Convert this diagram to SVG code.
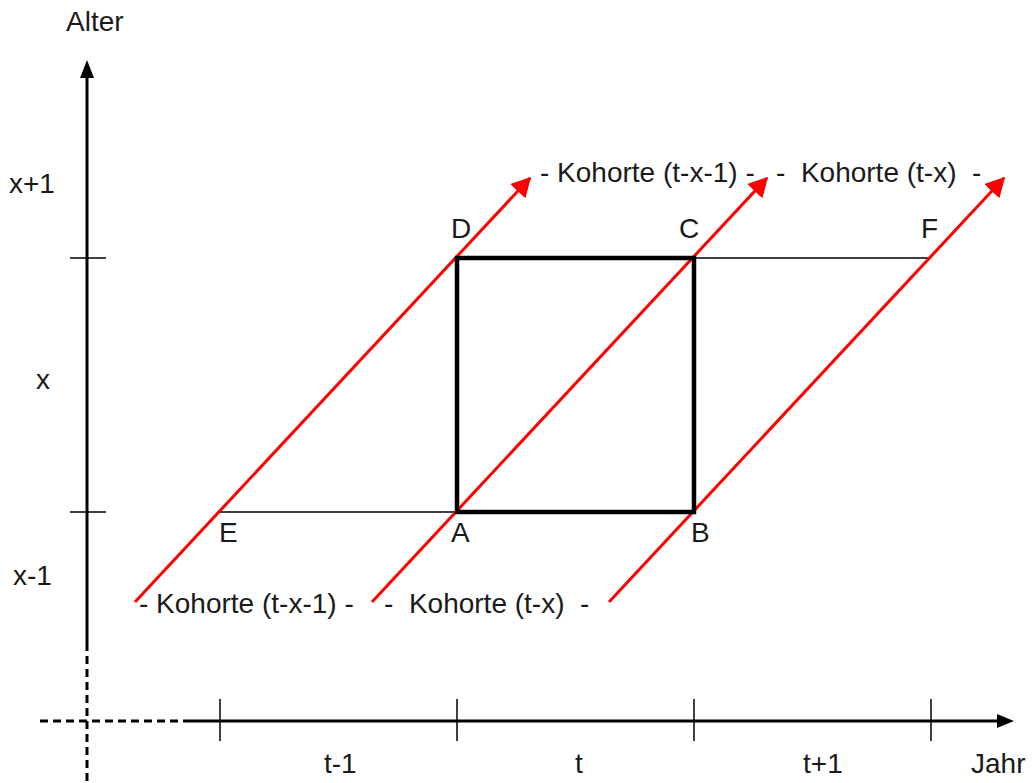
<svg xmlns="http://www.w3.org/2000/svg" width="1033" height="783" viewBox="0 0 1033 783">
<style>
text{font-family:"Liberation Sans",Arial,sans-serif;font-size:28px;fill:#1a1a1a}
.ax{stroke:#000;stroke-width:3;fill:none}
.dash{stroke:#000;stroke-width:3;stroke-dasharray:8,5;fill:none}
.tick{stroke:#000;stroke-width:1.5}
.thin{stroke:#000;stroke-width:1.5}
.coh{stroke:#ff0000;stroke-width:3;fill:none;marker-end:url(#ra)}
</style>
<defs>
<marker id="ra" markerWidth="7" markerHeight="7" refX="6" refY="3.5" orient="auto" markerUnits="strokeWidth">
<path d="M0,0 L6.5,3.5 L0,7 z" fill="#ff0000"/>
</marker>
</defs>
<rect width="1033" height="783" fill="#fff"/>
<g id="axes">
<line class="ax" x1="87" y1="76" x2="87" y2="643"/>
<line class="dash" x1="87" y1="643" x2="87" y2="783"/>
<path d="M87,60 L94,78 L80,78 z" fill="#000"/>
<line class="dash" x1="40" y1="721" x2="183" y2="721"/>
<line class="ax" x1="183" y1="721" x2="998" y2="721"/>
<path d="M1014,721 L997,714 L997,728 z" fill="#000"/>
<line class="tick" x1="70" y1="258" x2="106" y2="258"/>
<line class="tick" x1="70" y1="512" x2="106" y2="512"/>
<line class="tick" x1="220" y1="699" x2="220" y2="741"/>
<line class="tick" x1="457" y1="699" x2="457" y2="741"/>
<line class="tick" x1="694" y1="699" x2="694" y2="741"/>
<line class="tick" x1="931" y1="699" x2="931" y2="741"/>
<text x="66" y="31">Alter</text>
<text x="9" y="193">x+1</text>
<text x="36" y="389">x</text>
<text x="13" y="585">x-1</text>
<text x="324" y="773">t-1</text>
<text x="575" y="773">t</text>
<text x="803" y="773">t+1</text>
<text x="971" y="773">Jahr</text>
</g>
<g id="connectors">
<line class="thin" x1="220" y1="512" x2="457" y2="512"/>
<line class="thin" x1="694" y1="258" x2="928" y2="258"/>
<line class="coh" x1="135" y1="602" x2="530" y2="178"/>
<line class="coh" x1="372" y1="602" x2="767" y2="178"/>
<line class="coh" x1="609" y1="602" x2="1004" y2="178"/>
</g>
<g id="square">
<rect x="457" y="258" width="237" height="254" fill="none" stroke="#000" stroke-width="4.5"/>
</g>
<g id="points">
<text x="451" y="238">D</text>
<text x="679" y="238">C</text>
<text x="921" y="238">F</text>
<text x="219" y="542">E</text>
<text x="451" y="542">A</text>
<text x="691" y="542">B</text>
</g>
<g id="labels">
<text x="540" y="182" xml:space="preserve">- Kohorte (t-x-1) -</text>
<text x="776" y="182" xml:space="preserve">-  Kohorte (t-x)  -</text>
<text x="139" y="613" xml:space="preserve">- Kohorte (t-x-1) -</text>
<text x="384" y="613" xml:space="preserve">-  Kohorte (t-x)  -</text>
</g>
</svg>
